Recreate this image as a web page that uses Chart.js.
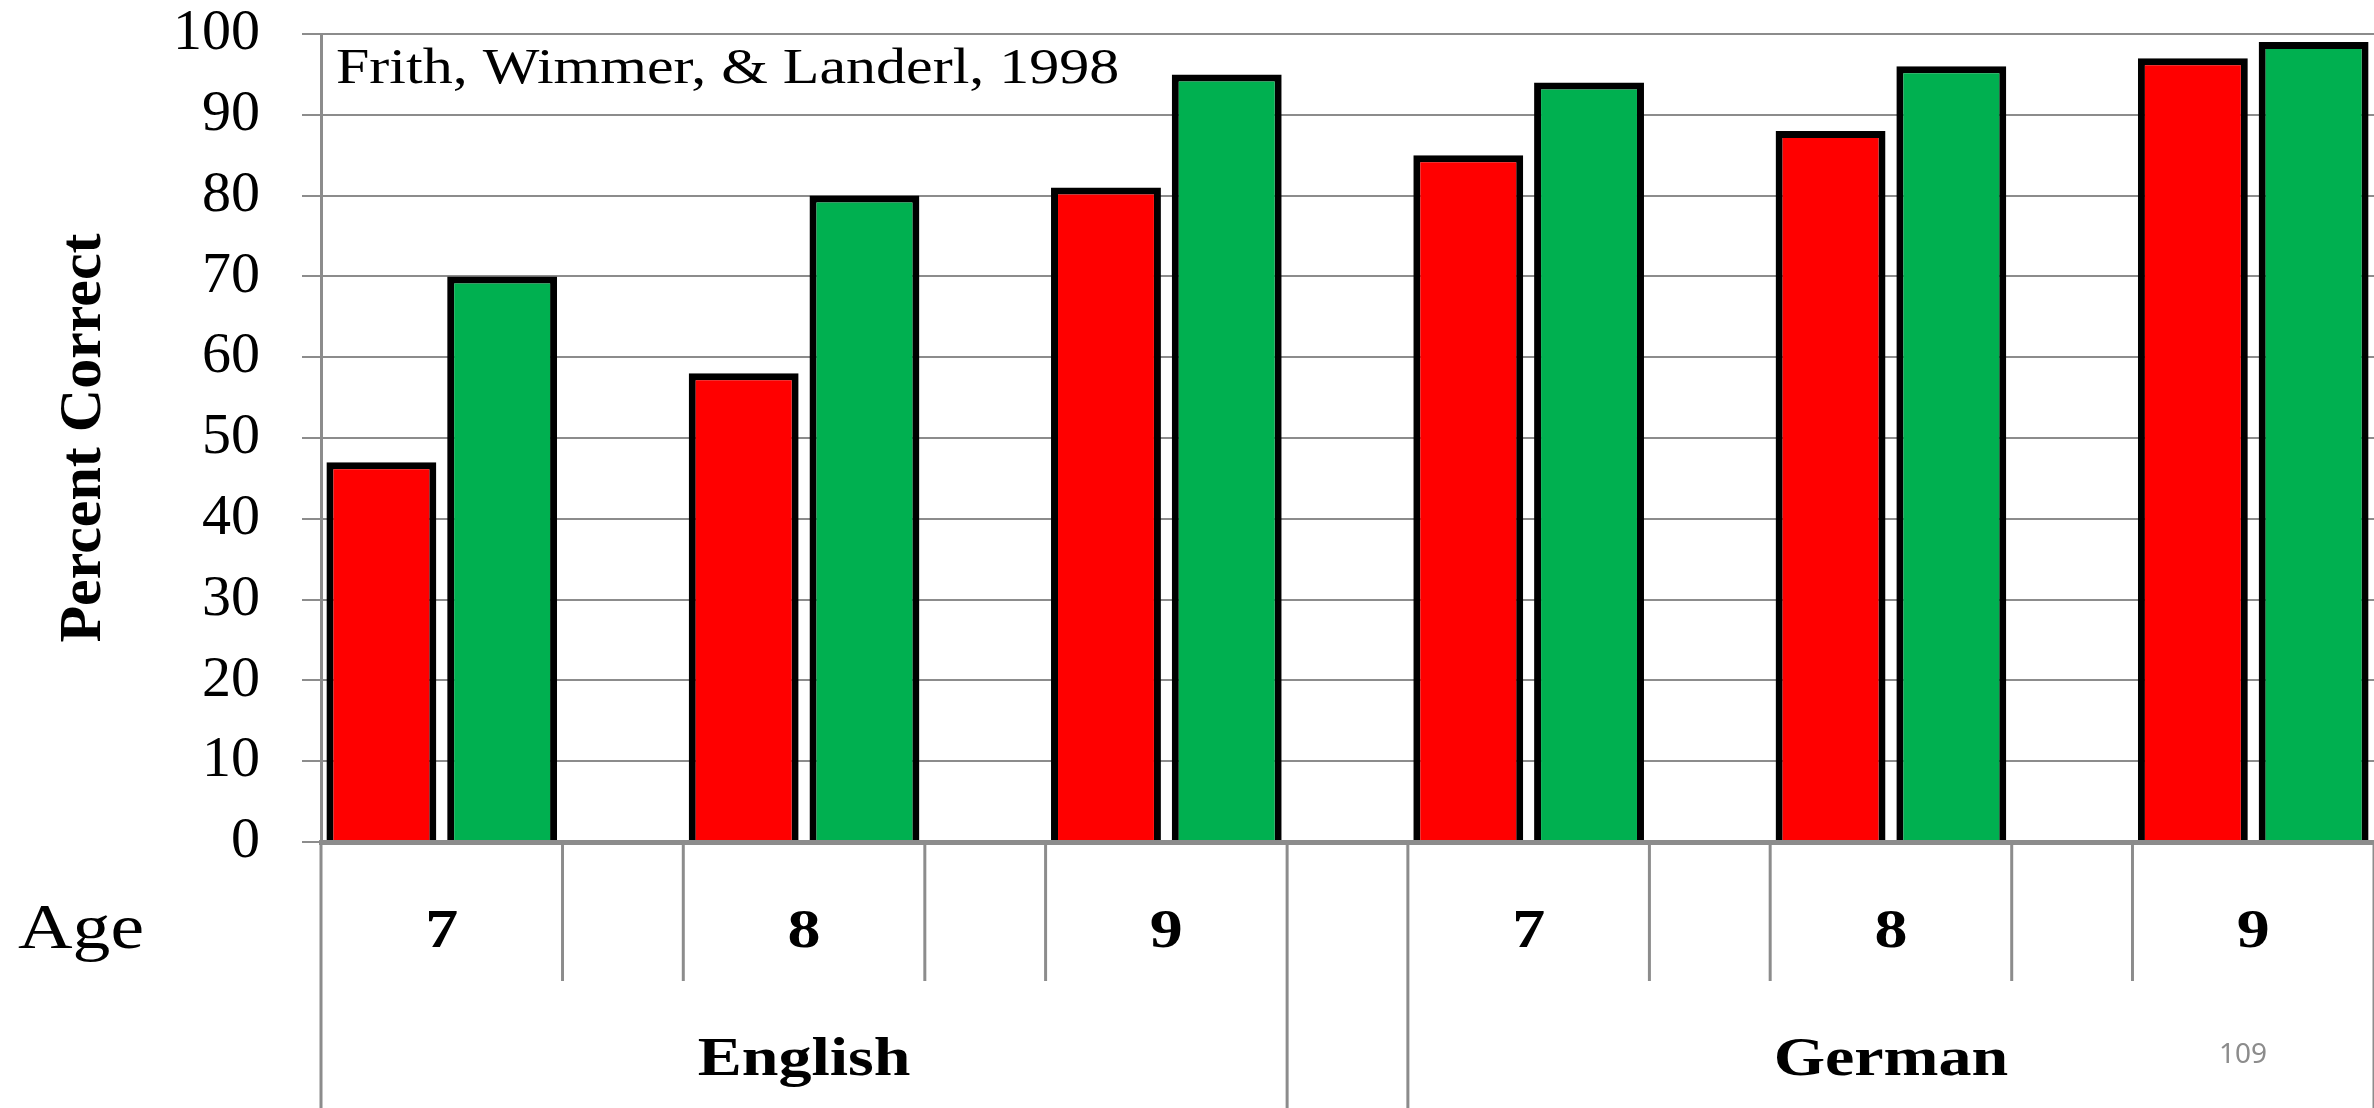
<!DOCTYPE html>
<html>
<head>
<meta charset="utf-8">
<title>Percent Correct</title>
<script src="https://cdn.jsdelivr.net/npm/chart.js@4.4.1/dist/chart.umd.min.js"></script>
<style>
  html, body { margin: 0; padding: 0; background: #fff; overflow: hidden; }
  #wrap { width: 2374px; height: 1108px; }
</style>
</head>
<body>
<div id="wrap"><canvas id="chart" width="2374" height="1108"></canvas></div>
<script>
const languages = ['English', 'German'];
const ages = ['7', '8', '9'];
const redValues = [47, 58, 81, 85, 88, 97];
const greenValues = [70, 80, 95, 94, 96, 99];
const axisTitle = 'Percent Correct';
const rowTitle = 'Age';
const sourceNote = 'Frith, Wimmer, & Landerl, 1998';
const pageNumber = '109';

const serif = '"Liberation Serif", "Times New Roman", serif';
const lineGray = '#8c8c8c';
// the slide's text is a little stretched sideways
const stretch = 1.2;

// every age gets a red slot, a green slot and an empty spacer slot
const labels = [];
const redData = [];
const greenData = [];
languages.forEach((lang, li) => {
    ages.forEach((age, ai) => {
        const i = li * ages.length + ai;
        labels.push(`${lang} ${age} a`, `${lang} ${age} b`, `${lang} ${age} gap`);
        redData.push(redValues[i], null, null);
        greenData.push(null, greenValues[i], null);
    });
});
// the slide cuts the chart off right after the last bar
labels.pop();
redData.pop();
greenData.pop();

function wideText(ctx, text, x, y) {
    ctx.save();
    ctx.translate(x, y);
    ctx.scale(stretch, 1);
    ctx.fillText(text, 0, 0);
    ctx.restore();
}

// draws the two level category table under the axis and the loose texts
const tablePlugin = {
    id: 'categoryTable',
    afterDraw(chart) {
        const ctx = chart.ctx;
        const x = chart.scales.x;
        const area = chart.chartArea;
        const slot = x.getPixelForValue(1) - x.getPixelForValue(0);
        const edge = k => x.getPixelForValue(k) - slot / 2;
        const perLang = ages.length * 3;
        const shortBottom = 981;

        function vline(px, bottom) {
            ctx.beginPath();
            ctx.moveTo(px, area.bottom);
            ctx.lineTo(px, bottom);
            ctx.stroke();
        }

        ctx.save();
        ctx.strokeStyle = lineGray;
        ctx.lineWidth = 3;
        languages.forEach((lang, li) => {
            const start = li * perLang;
            vline(edge(start), chart.height);
            vline(edge(start + perLang - 1), chart.height);
            ages.forEach((age, ai) => {
                const s = start + ai * 3;
                if (ai > 0) vline(edge(s), shortBottom);
                if (ai < ages.length - 1) vline(edge(s + 2), shortBottom);
            });
        });

        ctx.fillStyle = '#000';
        ctx.textAlign = 'center';
        ctx.textBaseline = 'alphabetic';
        languages.forEach((lang, li) => {
            const start = li * perLang;
            ctx.font = 'bold 55px ' + serif;
            ages.forEach((age, ai) => {
                wideText(ctx, age, edge(start + ai * 3 + 1), 947);
            });
            wideText(ctx, lang, edge(start + 4), 1075);
        });

        ctx.textAlign = 'left';
        ctx.font = '63px ' + serif;
        wideText(ctx, rowTitle, 18, 948);

        ctx.font = '50px ' + serif;
        wideText(ctx, sourceNote, area.left + 15, 83);

        ctx.fillStyle = '#8c8c8c';
        ctx.textAlign = 'center';
        ctx.font = '28px "Noto Sans", sans-serif';
        ctx.fillText(pageNumber, 2243, 1063);
        ctx.restore();
    }
};

new Chart(document.getElementById('chart'), {
    type: 'bar',
    data: {
        labels: labels,
        datasets: [
            {
                data: redData,
                backgroundColor: '#ff0000',
                borderColor: '#000',
                borderWidth: 7,
                grouped: false,
                barPercentage: 0.91,
                categoryPercentage: 1
            },
            {
                data: greenData,
                backgroundColor: '#00b050',
                borderColor: '#000',
                borderWidth: 7,
                grouped: false,
                barPercentage: 0.91,
                categoryPercentage: 1
            }
        ]
    },
    options: {
        responsive: false,
        animation: false,
        layout: { padding: { top: 34, bottom: 266, left: 0, right: 0 } },
        plugins: {
            legend: { display: false },
            tooltip: { enabled: false }
        },
        scales: {
            x: {
                grid: { display: false, drawTicks: false },
                ticks: { display: false },
                border: { color: lineGray, width: 5, z: 1 }
            },
            y: {
                min: 0,
                max: 100,
                ticks: {
                    stepSize: 10,
                    padding: 42,
                    color: '#000',
                    font: { family: serif, size: 58 }
                },
                grid: { color: lineGray, lineWidth: 2, tickLength: 19 },
                border: { color: lineGray, width: 3 },
                title: {
                    display: true,
                    text: axisTitle,
                    color: '#000',
                    font: { family: serif, size: 60, weight: 'bold' },
                    padding: { top: 48, bottom: 0 }
                },
                afterFit(scale) {
                    scale.width = 321;
                    scale.paddingTop = 0;
                }
            }
        }
    },
    plugins: [tablePlugin]
});
</script>
</body>
</html>
